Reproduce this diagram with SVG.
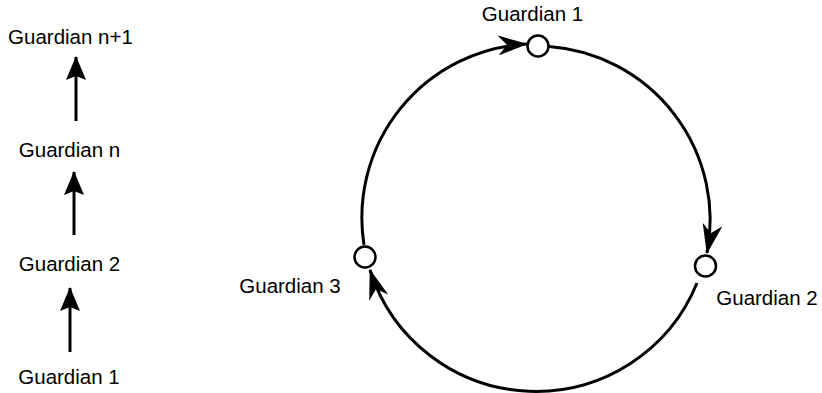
<svg xmlns="http://www.w3.org/2000/svg" width="822" height="393" viewBox="0 0 822 393">
  <style>
    .lbl { font-family: "Liberation Sans", Arial, sans-serif; font-size: 20.5px; fill: #000; text-anchor: middle; }
    .node { fill: #fff; stroke: #000; stroke-width: 2.5; }
    .edge { fill: none; stroke: #000; stroke-width: 3; }
  </style>
  <defs>
    <marker id="arrow" markerUnits="userSpaceOnUse" viewBox="0 0 24 20" markerWidth="24" markerHeight="20" refX="23" refY="10" orient="auto">
      <path d="M0,0 L24,10 L0,20 L4,10 Z" fill="#000"/>
    </marker>
    <marker id="arrowc" markerUnits="userSpaceOnUse" viewBox="0 0 30 20" markerWidth="30" markerHeight="20" refX="29" refY="10" orient="auto">
      <path d="M0,0 L30,10 L0,20 L9,10 Z" fill="#000"/>
    </marker>
  </defs>
  <g id="connectors">
    <path class="edge" d="M76,121 L76,57" marker-end="url(#arrow)"/>
    <path class="edge" d="M74,235 L74,172" marker-end="url(#arrow)"/>
    <path class="edge" d="M70,352 L70,288" marker-end="url(#arrow)"/>
    <path class="edge" d="M549,46.5 A174,174 0 0 1 707,253" marker-end="url(#arrowc)"/>
    <path class="edge" d="M697,283 A174,174 0 0 1 370,270" marker-end="url(#arrowc)"/>
    <path class="edge" d="M364,245 A174,174 0 0 1 527,44" marker-end="url(#arrowc)"/>
  </g>
  <g id="chain-guardian-n1"><text class="lbl" x="70.5" y="44">Guardian n+1</text></g>
  <g id="chain-guardian-n"><text class="lbl" x="69.5" y="157">Guardian n</text></g>
  <g id="chain-guardian-2"><text class="lbl" x="69.5" y="271">Guardian 2</text></g>
  <g id="chain-guardian-1"><text class="lbl" x="69" y="384">Guardian 1</text></g>
  <g id="ring-guardian-1">
    <circle class="node" cx="538" cy="46" r="10.5"/>
    <text class="lbl" x="532.5" y="21">Guardian 1</text>
  </g>
  <g id="ring-guardian-2">
    <circle class="node" cx="705.5" cy="266" r="10.5"/>
    <text class="lbl" x="767" y="305">Guardian 2</text>
  </g>
  <g id="ring-guardian-3">
    <circle class="node" cx="365" cy="257" r="10.5"/>
    <text class="lbl" x="290" y="293">Guardian 3</text>
  </g>
</svg>
